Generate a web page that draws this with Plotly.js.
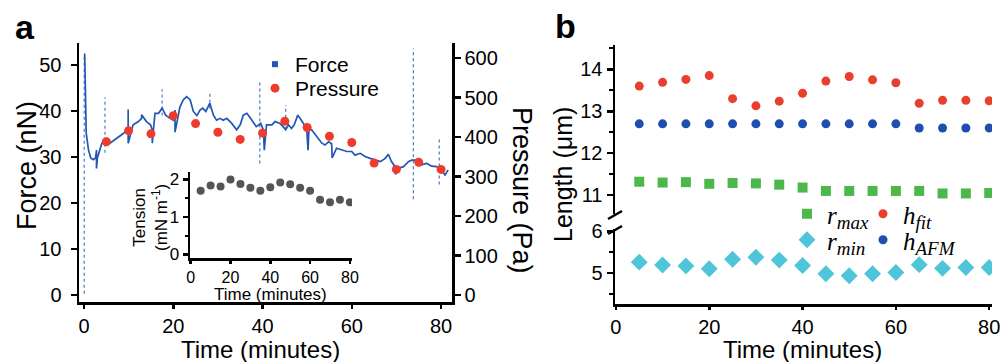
<!DOCTYPE html>
<html>
<head>
<meta charset="utf-8">
<script src="https://cdn.plot.ly/plotly-3.0.1.min.js"></script>
<style>html,body{margin:0;padding:0;background:#fff;}#chart{width:1000px;height:362px;}</style>
</head>
<body>
<div id="chart"></div>
<script>
// ---------- Panel a: force trace (minutes, nN) ----------
const forceTime = [0.15,0.3,0.35,0.5,1.0,1.5,2.1,2.6,2.8,2.8,3.0,3.5,4.0,4.7,5.1,5.8,6.5,7.6,8.8,9.9,9.9,9.9,11.0,12.2,12.9,12.9,14.0,14.9,15.3,15.3,15.9,16.7,17.5,18.3,19.3,20.0,20.4,20.4,21.5,22.3,23.0,23.8,24.5,25.3,26.0,26.6,27.3,28.2,29.0,29.7,30.5,31.2,32.0,33.1,34.2,35.0,35.7,36.5,37.2,37.9,38.6,39.2,39.6,40.2,40.4,40.9,42.1,42.8,43.9,44.6,45.2,45.8,46.5,47.1,47.9,48.4,49.2,49.9,50.2,50.4,51.0,52.2,53.3,54.0,54.8,55.5,55.6,56.6,57.8,58.9,60.0,60.7,61.9,63.0,64.1,65.2,66.4,67.5,68.2,68.9,69.7,69.8,70.4,71.6,72.7,73.4,74.0,74.5,75.6,76.8,77.9,79.0,79.8,80.9,81.6];
const forceValue = [52.5,47,41,35.2,31.6,29.8,29.4,29.8,31.5,27.5,29.8,31.5,33.0,33.6,34.0,33.0,33.5,34.4,35.1,36.2,40.3,33.0,37.0,37.7,38.4,39.2,37.7,37.0,35.9,33.0,39.5,39.5,40.6,39.1,38.4,38.0,40.2,35.4,40.9,42.5,43.1,42.4,39.9,39.0,40.2,40.6,39.9,41.7,39.1,38.0,38.4,38.0,38.4,37.3,35.9,37.0,39.1,39.5,38.6,37.7,36.6,37.0,37.3,35.9,31.5,37.0,37.0,37.7,37.3,36.6,35.9,37.0,36.2,37.0,39.1,38.4,37.3,36.2,31.5,36.0,35.9,34.4,33.0,32.6,33.3,32.9,29.8,31.9,31.5,31.2,31.2,30.4,30.8,30.1,29.7,29.3,29.0,29.7,30.6,29.0,27.9,26.2,27.5,27.9,29.0,29.3,29.3,29.3,28.3,28.6,28.0,27.9,27.5,26.1,27.2];
// tall dotted spikes in the force record
const spikeTime = [0.05,4.7,17.5,28.2,39.4,45.2,73.8,79.6];
const spikeLow  = [0.3,30.9,39.0,40.5,28.6,35.9,20.8,24.0];
const spikeHigh = [52.0,43.0,44.7,43.8,46.2,41.3,53.6,34.0];

// ---------- Panel a: pressure + inset tension ----------
const sampleTime = [5,10,15,20,25,30,35,40,45,50,55,60,65,70,75,80];
const pressure = [388,416,408,454,434,412,394,410,440,424,402,386,334,318,336,318];
const tension = [1.70,1.84,1.81,2.00,1.88,1.78,1.70,1.79,1.92,1.87,1.78,1.70,1.46,1.39,1.46,1.39];

// ---------- Panel b (µm) ----------
const hFit = [13.60,13.69,13.76,13.85,13.30,13.13,13.24,13.43,13.72,13.83,13.75,13.68,13.19,13.26,13.26,13.25];
const hAFM = [12.7,12.7,12.7,12.7,12.7,12.7,12.7,12.7,12.7,12.7,12.7,12.7,12.6,12.6,12.6,12.6];
const rMax = [11.32,11.30,11.31,11.27,11.29,11.28,11.25,11.18,11.10,11.10,11.10,11.10,11.10,11.04,11.04,11.05];
const rMin = [5.26,5.19,5.17,5.10,5.33,5.38,5.31,5.18,4.98,4.93,4.98,5.01,5.20,5.11,5.13,5.13];

const forceTicks = [0,10,20,30,40,50];
const pressureTicks = [0,100,200,300,400,500,600];
const timeTicks = [0,20,40,60,80];
const tensionTicks = [0,1,2];
const upperTicks = [11,12,13,14];
const lowerTicks = [5,6];

// ---------- helpers: pixel -> paper ----------
const W = 1000, H = 362;
const PX = x => x / W;
const PY = y => 1 - y / H;
const FONT = 'Liberation Sans, Arial, sans-serif';
const SERIF = 'Liberation Serif, Times New Roman, serif';

const C_FORCE = '#2356b4', C_SPIKE = '#4a78c8', C_PRESS = '#ee3b2b', C_GRAY = '#555555';
const C_HFIT = '#e8402d', C_HAFM = '#1f4fae', C_RMAX = '#4db84a', C_RMIN = '#4fc5d9';

// spike segments built from the spike arrays (separated by gaps)
const spikeX = [], spikeY = [];
spikeTime.forEach((t, i) => { spikeX.push(t, t, null); spikeY.push(spikeLow[i], spikeHigh[i], null); });

function axisBase(extra) {
  return Object.assign({
    showline: true, linecolor: '#000', linewidth: 2.5,
    ticks: 'outside', ticklen: 6, tickwidth: 2.5, tickcolor: '#000',
    showgrid: false, zeroline: false, ticklabeloverflow: 'allow',
    tickfont: {family: FONT, size: 20, color: '#000'},
    fixedrange: true
  }, extra);
}

const subStyle = "<span style='font-size:19px'>";
const traces = [
  {x: spikeX, y: spikeY, xaxis: 'x', yaxis: 'y', type: 'scatter', mode: 'lines', connectgaps: false,
   line: {color: C_SPIKE, width: 1.2, dash: 'dot'}, showlegend: false, name: 'Force spikes'},
  {x: forceTime, y: forceValue, xaxis: 'x', yaxis: 'y', type: 'scatter', mode: 'lines',
   line: {color: C_FORCE, width: 1.7}, showlegend: false, name: 'Force'},
  {x: [null], y: [null], xaxis: 'x', yaxis: 'y', type: 'scatter', mode: 'markers',
   marker: {symbol: 'square', size: 6, color: C_FORCE}, name: 'Force', legend: 'legend'},
  {x: sampleTime, y: pressure, xaxis: 'x', yaxis: 'y2', type: 'scatter', mode: 'markers',
   marker: {symbol: 'circle', size: 9, color: C_PRESS}, name: 'Pressure', legend: 'legend4'},
  {x: sampleTime, y: tension, xaxis: 'x2', yaxis: 'y3', type: 'scatter', mode: 'markers',
   marker: {symbol: 'circle', size: 8, color: C_GRAY}, showlegend: false, name: 'Tension'},
  {x: sampleTime, y: rMax, xaxis: 'x3', yaxis: 'y4', type: 'scatter', mode: 'markers',
   marker: {symbol: 'square', size: 10, color: C_RMAX}, legend: 'legend2',
   name: "<i>r</i><sub><i>" + subStyle + "max</span></i></sub>"},
  {x: sampleTime, y: rMin, xaxis: 'x3', yaxis: 'y5', type: 'scatter', mode: 'markers',
   marker: {symbol: 'diamond', size: 13, color: C_RMIN}, legend: 'legend5',
   name: "<i>r</i><sub><i>" + subStyle + "min</span></i></sub>"},
  {x: sampleTime, y: hFit, xaxis: 'x3', yaxis: 'y4', type: 'scatter', mode: 'markers',
   marker: {symbol: 'circle', size: 9, color: C_HFIT}, legend: 'legend3',
   name: "<i>h</i><sub><i>" + subStyle + "fit</span></i></sub>"},
  {x: sampleTime, y: hAFM, xaxis: 'x3', yaxis: 'y4', type: 'scatter', mode: 'markers',
   marker: {symbol: 'circle', size: 9, color: C_HAFM}, legend: 'legend6',
   name: "<i>h</i><sub><i>" + subStyle + "AFM</span></i></sub>"}
];

const legendBase = {
  bgcolor: 'rgba(0,0,0,0)', borderwidth: 0, xanchor: 'left', yanchor: 'top',
  tracegroupgap: 0, itemclick: false, itemdoubleclick: false
};
const sansLegend = {family: FONT, size: 21, color: '#000'};
const serifLegend = {family: SERIF, size: 25, color: '#000'};

function ann(x, y, text, size, extra) {
  return Object.assign({xref: 'paper', yref: 'paper', x: PX(x), y: PY(y), text: text,
    showarrow: false, xanchor: 'center', yanchor: 'middle',
    font: {family: FONT, size: size, color: '#000'}}, extra || {});
}

const layout = {
  width: W, height: H,
  margin: {l: 0, r: 0, t: 0, b: 0, pad: 0},
  paper_bgcolor: '#fff', plot_bgcolor: 'rgba(0,0,0,0)',
  showlegend: true,
  font: {family: FONT, color: '#000'},
  xaxis: axisBase({domain: [PX(79), PX(452)], range: [-1.12, 82.46], anchor: 'y', tickvals: timeTicks, ticklen: 4}),
  yaxis: axisBase({domain: [PY(302), PY(43)], range: [-1.52, 54.78], anchor: 'x', tickvals: forceTicks, ticklabelstandoff: 5}),
  yaxis2: axisBase({overlaying: 'y', side: 'right', anchor: 'x', range: [-17.7, 638], tickvals: pressureTicks}),
  xaxis2: axisBase({domain: [PX(190), PX(352)], range: [-0.35, 81.06], anchor: 'y3', tickvals: timeTicks,
    ticklen: 3, tickfont: {family: FONT, size: 16, color: '#000'}}),
  yaxis3: axisBase({domain: [PY(258), PY(172)], range: [-0.1, 2.2], anchor: 'x2', tickvals: tensionTicks,
    ticklen: 5, tickfont: {family: FONT, size: 17, color: '#000'},
    minor: {tickvals: [0.5, 1.5], ticklen: 3, tickwidth: 2, tickcolor: '#000', ticks: 'outside'}}),
  xaxis3: axisBase({domain: [PX(615), PX(992)], range: [-0.2, 80.6], anchor: 'y5', tickvals: timeTicks, ticklen: 3}),
  yaxis4: axisBase({domain: [PY(214), PY(45)], range: [10.55, 14.58], anchor: 'x3', tickvals: upperTicks,
    minor: {dtick: 0.5, ticklen: 4, tickwidth: 2, tickcolor: '#000', ticks: 'outside'}}),
  yaxis5: axisBase({domain: [PY(304), PY(229)], range: [4.25, 6.06], anchor: 'x3', tickvals: lowerTicks,
    minor: {dtick: 0.5, ticklen: 4, tickwidth: 2, tickcolor: '#000', ticks: 'outside'}}),
  legend:  Object.assign({}, legendBase, {x: PX(255), y: PY(44), font: sansLegend}),
  legend4: Object.assign({}, legendBase, {x: PX(255), y: PY(68), font: sansLegend}),
  legend2: Object.assign({}, legendBase, {x: PX(787), y: PY(191), font: serifLegend}),
  legend5: Object.assign({}, legendBase, {x: PX(787), y: PY(217), font: serifLegend}),
  legend3: Object.assign({}, legendBase, {x: PX(863), y: PY(191), font: serifLegend}),
  legend6: Object.assign({}, legendBase, {x: PX(863), y: PY(217), font: serifLegend}),
  shapes: [
    {type: 'line', xref: 'paper', yref: 'paper', x0: PX(608), y0: PY(219), x1: PX(622), y1: PY(211), line: {color: '#000', width: 2.5}},
    {type: 'line', xref: 'paper', yref: 'paper', x0: PX(608), y0: PY(234), x1: PX(622), y1: PY(226), line: {color: '#000', width: 2.5}}
  ],
  annotations: [
    ann(25, 27, '<b>a</b>', 34),
    ann(565, 26, '<b>b</b>', 34),
    ann(27, 166, 'Force (nN)', 27, {textangle: -90}),
    ann(522, 190, 'Pressure (Pa)', 27, {textangle: 90}),
    ann(260, 349, 'Time (minutes)', 24),
    ann(802, 349, 'Time (minutes)', 24),
    ann(563, 175, 'Length (μm)', 25, {textangle: -90}),
    ann(270, 294, 'Time (minutes)', 17),
    ann(150, 218, 'Tension<br>(mN m<sup>-1</sup>)', 17, {textangle: -90})
  ]
};

Plotly.newPlot('chart', traces, layout, {displayModeBar: false, staticPlot: true});
</script>
</body>
</html>
